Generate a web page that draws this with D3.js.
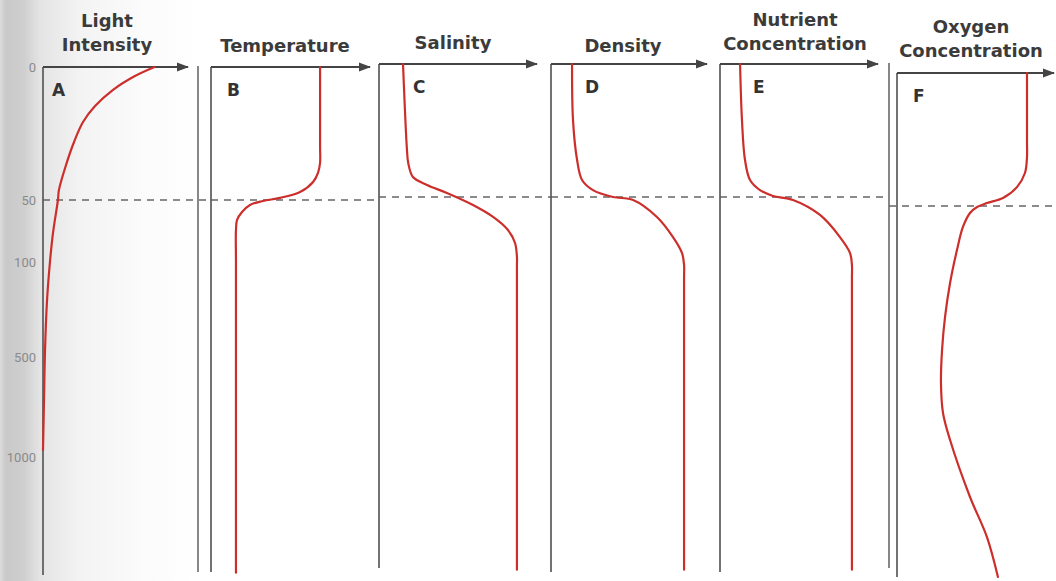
<!DOCTYPE html>
<html>
<head>
<meta charset="utf-8">
<script src="https://cdn.jsdelivr.net/npm/d3@7"></script>
<style>
  body { margin: 0; background: #fff; }
  svg { display: block; }
  .title { font-family: "DejaVu Sans", sans-serif; font-weight: 700; font-size: 18px; fill: #3b3b3b; text-anchor: middle; }
  .letter { font-family: "DejaVu Sans", sans-serif; font-weight: 700; font-size: 17px; fill: #333; }
  .tick text { font-family: Roboto, sans-serif; font-size: 13px; fill: #8a8a8a; }
</style>
</head>
<body>
<svg id="chart" width="1056" height="581"></svg>
<script>
// depth (m) labels on the left and the bends of the depth scale
const depthTicks = [0, 50, 100, 500, 1000];
const depthBreaks = [0, 50, 100, 500, 1000, 1500];
const thermoclineDepth = 50;

// profiles: [relative value 0-100, depth in m]
const light = [[77,0],[63.4,3.4],[48.3,8.6],[35.9,14.7],[27.6,20.7],[21.4,28.2],[15.9,36.8],[11,46.2],[10.3,50],[6.9,76.6],[4.8,100],[2.8,260],[1.4,470],[0.7,715],[0,965]];
const temperature = [[68.6,0],[68.6,30],[68.6,36],[67.3,39.8],[64.2,43.2],[56,47],[43.4,49.2],[32.7,50.8],[24.5,54],[19.5,59.7],[16.4,66.1],[15.7,74.2],[15.7,100],[15.7,1490]];
const salinity = [[15.2,0],[17.7,32.3],[18.5,37.2],[21.5,42.5],[30.4,45.5],[43,48.5],[59.5,56.5],[72.2,66.1],[81.6,76.6],[86.1,87.1],[87.3,98.4],[87.3,130],[87.3,1490]];
const density = [[13.5,0],[14.1,21],[16.7,36],[19.9,43.6],[26.9,47.4],[39.7,50],[52.6,52.4],[67.9,66.1],[78.2,82.3],[84,95.2],[85.3,126],[85.3,180],[85.3,1490]];
const nutrients = [[12.7,0],[13.9,21],[15.8,36],[19,43.6],[25.3,47.4],[33.5,49.6],[46.2,52.4],[63.3,64.5],[75.9,82.3],[82.3,95.2],[83.5,126],[83.5,180],[83.5,1490]];
const oxygen = [[82.8,0],[82.8,26],[82.8,31.6],[81.5,37.6],[76.4,42.9],[67.5,47],[57.3,48.9],[51,50.8],[46.5,55.6],[42,66.9],[38.2,85.5],[33.8,163],[30.6,306],[28.7,445],[28,600],[29.3,750],[33.8,885],[46.5,1144],[57.3,1314],[64.3,1483]];

const titles = [["Light", "Intensity"], ["Temperature"], ["Salinity"], ["Density"], ["Nutrient", "Concentration"], ["Oxygen", "Concentration"]];
const letters = ["A", "B", "C", "D", "E", "F"];
const profiles = [light, temperature, salinity, density, nutrients, oxygen];

// where each panel sits on the page (the scan is slightly out of line)
const layout = [
    { x0: 43,  x1: 188,  dy: 0,  bottom: 575, dashTo: 211,  tx: 107, ty: [27, 51], lx: 52 },
    { x0: 211, x1: 370,  dy: 0,  bottom: 572, dashTo: 379,  tx: 285, ty: [52],     lx: 227 },
    { x0: 379, x1: 537,  dy: -3, bottom: 568, dashTo: 551,  tx: 453, ty: [49],     lx: 413 },
    { x0: 551, x1: 707,  dy: -3, bottom: 572, dashTo: 720,  tx: 623, ty: [52],     lx: 585 },
    { x0: 720, x1: 878,  dy: -3, bottom: 572, dashTo: 889,  tx: 795, ty: [26, 50], lx: 753 },
    { x0: 897, x1: 1054, dy: 6,  bottom: 577, dashTo: 1056, dashFrom: 889, tx: 971, ty: [33, 57], lx: 913 }
];

const svg = d3.select('#chart');
const defs = svg.append('defs');

const grad = defs.append('linearGradient').attr('id', 'shade');
[[0, '#dcdcdc'], [0.03, '#c9c9c9'], [0.12, '#cfcfcf'], [0.2, '#e4e4e4'], [0.4, '#f3f3f3'], [0.7, '#fbfbfb'], [1, '#ffffff']]
    .forEach(([o, c]) => grad.append('stop').attr('offset', o).attr('stop-color', c));
svg.append('rect').attr('width', 200).attr('height', 581).attr('fill', 'url(#shade)');

defs.append('marker')
    .attr('id', 'arrow')
    .attr('markerUnits', 'userSpaceOnUse')
    .attr('markerWidth', 12).attr('markerHeight', 10)
    .attr('refX', 11).attr('refY', 5)
    .attr('orient', 'auto')
    .append('path')
    .attr('d', 'M0,0.5 L12,5 L0,9.5 Z')
    .attr('fill', '#444');

// separator lines between A|B and E|F
svg.append('line').attr('x1', 198).attr('x2', 198).attr('y1', 66).attr('y2', 572)
    .attr('stroke', '#6a6a6a').attr('stroke-width', 1.6);
svg.append('line').attr('x1', 889).attr('x2', 889).attr('y1', 63).attr('y2', 568)
    .attr('stroke', '#6a6a6a').attr('stroke-width', 1.6);

profiles.forEach((data, i) => {
    const p = layout[i];
    const y = d3.scaleLinear()
        .domain(depthBreaks)
        .range([67, 200, 262, 357, 457, 575].map(v => v + p.dy));
    const x = d3.scaleLinear().domain([0, 100]).range([p.x0, p.x1]);
    const g = svg.append('g');

    // thermocline dashes
    g.append('line')
        .attr('x1', p.dashFrom || p.x0).attr('x2', p.dashTo)
        .attr('y1', y(thermoclineDepth)).attr('y2', y(thermoclineDepth))
        .attr('stroke', '#666').attr('stroke-width', 1.6)
        .attr('stroke-dasharray', '7,6');

    // depth axis
    g.append('line')
        .attr('x1', p.x0).attr('x2', p.x0)
        .attr('y1', y(0)).attr('y2', p.bottom)
        .attr('stroke', '#5a5a5a').attr('stroke-width', 1.7);

    // value axis with arrow
    g.append('line')
        .attr('x1', p.x0).attr('x2', p.x1)
        .attr('y1', y(0)).attr('y2', y(0))
        .attr('stroke', '#444').attr('stroke-width', 2)
        .attr('marker-end', 'url(#arrow)');

    if (i === 0) {
        const ax = g.append('g')
            .attr('transform', `translate(${p.x0 - 2},0)`)
            .call(d3.axisLeft(y).tickValues(depthTicks).tickFormat(d3.format('d')).tickSize(0).tickPadding(5));
        ax.select('.domain').remove();
    }

    g.append('path')
        .datum(data)
        .attr('fill', 'none')
        .attr('stroke', '#cc2f2b')
        .attr('stroke-width', 2.2)
        .attr('stroke-linecap', 'round')
        .attr('d', d3.line()
            .x(d => x(d[0]))
            .y(d => y(d[1]))
            .curve(d3.curveCatmullRom.alpha(0.5)));

    g.selectAll('text.title')
        .data(titles[i])
        .enter()
        .append('text')
        .attr('class', 'title')
        .attr('x', p.tx)
        .attr('y', (d, k) => p.ty[k])
        .text(d => d);

    g.append('text')
        .attr('class', 'letter')
        .attr('x', p.lx)
        .attr('y', y(0) + 29)
        .text(letters[i]);
});
</script>
</body>
</html>
